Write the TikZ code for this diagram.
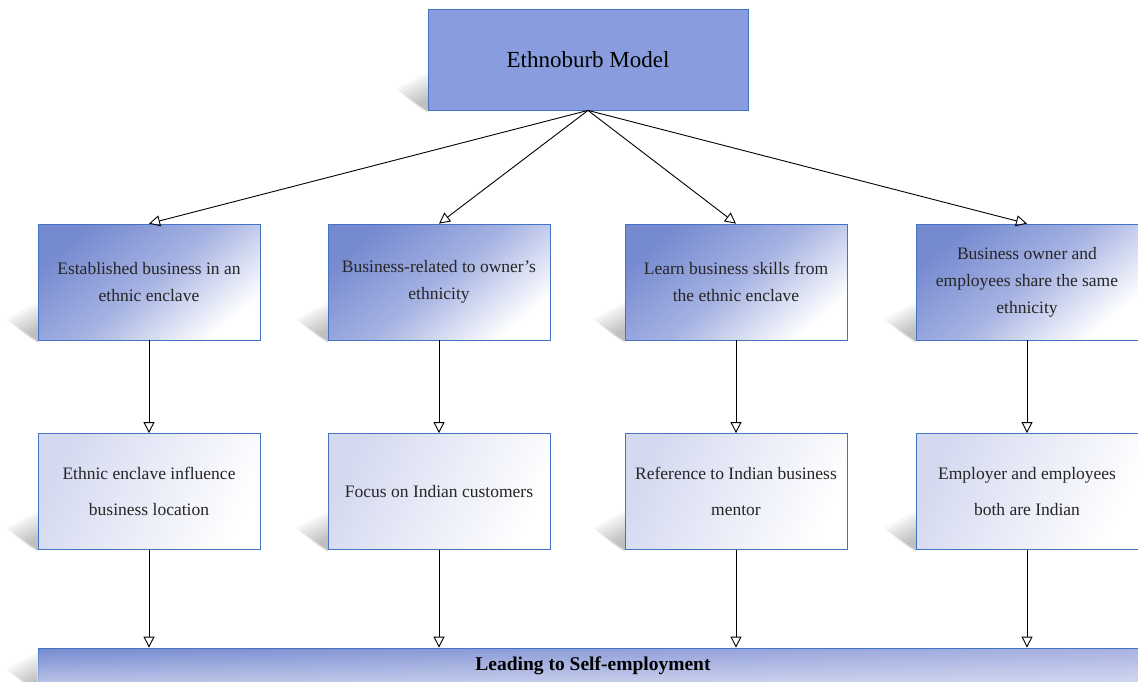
\documentclass[tikz,border=0pt]{standalone}
\usepackage{fontspec}
\setmainfont{Liberation Serif}
\newfontfamily\tnr{Liberation Serif}
\usetikzlibrary{arrows.meta,fadings}
\definecolor{bdr}{RGB}{68,114,196}
\definecolor{topfill}{RGB}{137,157,222}
\definecolor{dkb}{RGB}{118,138,208}
\definecolor{midb}{RGB}{165,178,226}
\definecolor{lav}{RGB}{212,217,240}
\definecolor{barr}{RGB}{168,178,226}
\tikzfading[name=fadeup, top color=transparent!100, bottom color=transparent!0]
\begin{document}
\begin{tikzpicture}[x=1pt,y=-1pt,
  box/.style={draw=bdr, line width=0.8pt, minimum width=222pt, minimum height=116pt, align=center, inner sep=0pt, text=black!85},
  rowone/.style={box, top color=dkb, bottom color=white, middle color=midb, shading angle=40, font=\tnr\fontsize{17.5}{27}\selectfont},
  rowtwo/.style={box, top color=lav, bottom color=white, shading angle=65, font=\tnr\fontsize{17.5}{36}\selectfont},
  arr/.style={draw=black, line width=0.9pt, -{Triangle[open, length=11pt, width=11pt, line width=0.9pt]}},
  shad/.pic={
    \foreach \s in {1.0,0.9,0.8,0.7,0.6,0.5,0.4,0.3}{
      \fill[black,opacity=0.035] (-32*\s,-21*\s) -- (0,-38*\s) -- (0,3*\s) -- (-14*\s,-6*\s) -- cycle;
    }
  }]
\useasboundingbox (0,0) rectangle (1138,681);

% shadows
\pic at (428,110) {shad};
\foreach \x in {38,328,625,916}{
  \pic at (\x,340) {shad};
  \pic at (\x,549) {shad};
}
\pic at (38,690) {shad};

% top node
\node[box, fill=topfill, minimum width=320pt, minimum height=101pt, font=\tnr\fontsize{23}{28}\selectfont, text=black] (top) at (588,59.5) {Ethnoburb Model};

% row one
\node[rowone] (a1) at (149,282) {Established business in an\\ethnic enclave};
\node[rowone] (b1) at (439,282) {Business-related to owner’s\\ethnicity};
\node[rowone] (c1) at (736,282) {Learn business skills from\\the ethnic enclave};
\node[rowone] (d1) at (1027,282) {Business owner and\\employees share the same\\ethnicity};

% row two
\node[rowtwo] (a2) at (149,491.5) {Ethnic enclave influence\\business location};
\node[rowtwo] (b2) at (439,491.5) {Focus on Indian customers};
\node[rowtwo] (c2) at (736,491.5) {Reference to Indian business\\mentor};
\node[rowtwo] (d2) at (1027,491.5) {Employer and employees\\both are Indian};

% bottom bar
\node[draw=bdr, line width=0.8pt, left color=dkb, right color=barr, minimum width=1100pt, minimum height=38pt, inner sep=0pt] (bar) at (588,667) {};
\fill[white, opacity=0.55, path fading=fadeup] (bar.north west) rectangle (bar.south east);
\node[font=\tnr\fontsize{19.5}{24}\bfseries\selectfont, text=black] (bartext) at (593,666) {Leading to Self-employment};

% connectors
\foreach \n in {a,b,c,d}{
  \draw[arr] (top.south) -- (\n1.north);
  \draw[arr] (\n1.south) -- (\n2.north);
  \draw[arr] (\n2.south) -- (\n2.south |- bar.north);
}
\end{tikzpicture}
\end{document}
